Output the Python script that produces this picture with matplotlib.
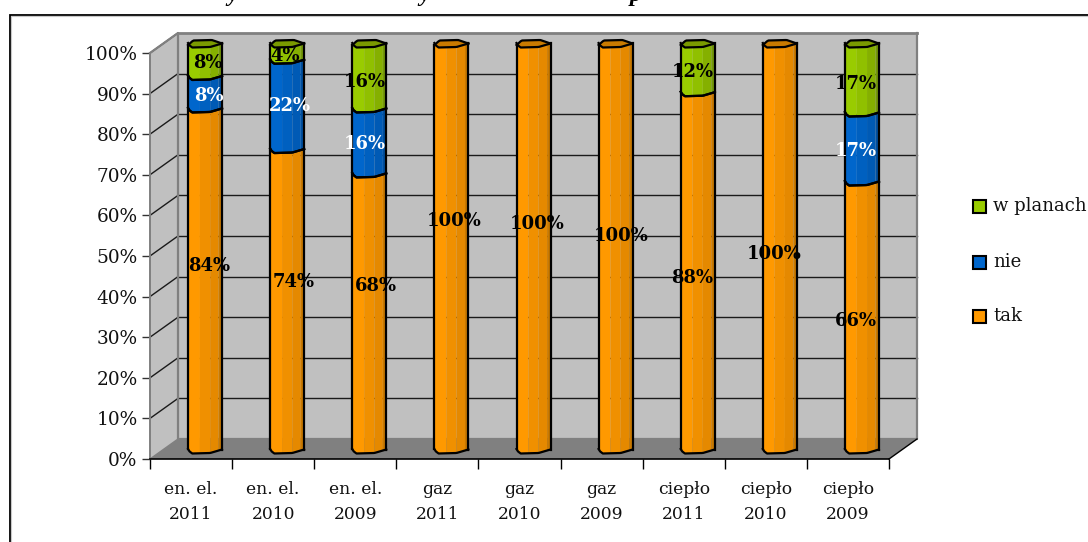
import numpy as np
import matplotlib
matplotlib.use("Agg")
import matplotlib.pyplot as plt
from matplotlib.patches import Rectangle, Polygon

categories = ["en. el.\n2011", "en. el.\n2010", "en. el.\n2009", "gaz\n2011", "gaz\n2010",
              "gaz\n2009", "ciepło\n2011", "ciepło\n2010", "ciepło\n2009"]
tak = [84, 74, 68, 100, 100, 100, 88, 100, 66]
nie = [8, 22, 16, 0, 0, 0, 0, 0, 17]
w_planach = [8, 4, 16, 0, 0, 0, 12, 0, 17]

# label centres as shift from the bar centre (px) and axis height (%)
tak_label_dx = [4, 7, 7, 3, 4, 6, -6, -6, -6]
tak_label_y = [47.5, 43.5, 42.5, 58.5, 57.8, 55, 44.5, 50.5, 34]
nie_label_dx = [4, 3, -4, 0, 0, 0, 0, 0, -6]
nie_label_y = [89.5, 87, 77.5, 0, 0, 0, 0, 0, 75.8]
pl_label_dx = [3, -2, -4, 0, 0, 0, -5, 0, -6]
pl_label_y = [97.5, 99.3, 92.8, 0, 0, 0, 95.3, 0, 92.4]

orange = ["#ff9900", "#f09000", "#e58900", "#c97900"]
blue = ["#0066cc", "#0060c0", "#005ab5", "#004f9f"]
green = ["#99cc00", "#90c000", "#85b000", "#74980a"]
cap_orange = "#c97a00"
cap_green = "#7a9a00"
band_edges = [0, 0.35, 0.65, 0.9, 1]

W, H = 1088, 542
FONT = "DejaVu Serif"

fig = plt.figure(figsize=(W / 100, H / 100), dpi=100)

# frame round the chart runs off the right and bottom of the figure
bg = fig.add_axes([0, 0, 1, 1])
bg.set_xlim(0, W)
bg.set_ylim(H, 0)
bg.axis("off")
bg.plot([9.5, 9.5, W], [H, 14.5, 14.5], color="black", lw=1.3, solid_joinstyle="miter")
bg.plot([11, 11, W], [H, 15.8, 15.8], color="#c8c8c8", lw=0.8)

# title line sits above the top edge, only its descenders show
for tx, ch in [(233, "y"), (425, "y"), (636, "p")]:
    bg.text(tx, 0.5, ch, fontsize=17, family="Liberation Serif", weight="bold", style="italic",
            ha="center", va="baseline")

# front plane of the box
ax = fig.add_axes([150 / W, 1 - 459 / H, 739 / W, 406 / H])
ax.set_xlim(0, 9)
ax.set_ylim(0, 100)
ax.patch.set_visible(False)
for s in ["top", "right", "left", "bottom"]:
    ax.spines[s].set_visible(False)

px = 9 / 739
py = 100 / 406
dep_x = 28 * px
dep_y = 20 * py


def wall(xs, ys, fc, z):
    ax.add_patch(Polygon(list(zip(xs, ys)), closed=True, fc=fc, ec="none", clip_on=False, zorder=z))


# side wall, back wall, floor
wall([0, dep_x, dep_x, 0], [0, dep_y, 100 + dep_y, 100], "#c0c0c0", 1)
wall([dep_x, 9 + dep_x, 9 + dep_x, dep_x], [dep_y, dep_y, 100 + dep_y, 100 + dep_y], "#c0c0c0", 1)
wall([0, 9, 9 + dep_x, dep_x], [0, 0, dep_y, dep_y], "#808080", 1)

for v in range(10, 101, 10):
    if v < 100:
        ax.plot([dep_x, 9 + dep_x], [v + dep_y, v + dep_y], color="#1a1a1a", lw=1.0, clip_on=False, zorder=2)
    ax.plot([0, dep_x], [v, v + dep_y], color="#1a1a1a", lw=1.0, clip_on=False, zorder=2)

ax.plot([0, dep_x, dep_x, 9 + dep_x, 9 + dep_x], [100, 100 + dep_y, dep_y, dep_y, 100 + dep_y],
        color="#808080", lw=1.6, clip_on=False, zorder=2)
ax.plot([dep_x, 9 + dep_x], [100 + dep_y, 100 + dep_y], color="#808080", lw=2, clip_on=False, zorder=2)
ax.plot([0, 0], [0, 100], color="#808080", lw=1.4, clip_on=False, zorder=3)
ax.plot([0, dep_x], [0, dep_y], color="#808080", lw=1, clip_on=False, zorder=2)
ax.plot([9, 9 + dep_x], [0, dep_y], color="black", lw=1, clip_on=False, zorder=3)
ax.plot([0, 9], [0, 0], color="black", lw=1.2, clip_on=False, zorder=3)

ax.set_xticks(range(10))
ax.set_xticklabels([])
ax.set_yticks(range(0, 101, 10))
ax.set_yticklabels([f"{v}%" for v in range(0, 101, 10)], fontsize=13.3, family=FONT, color="#111111")
ax.tick_params(axis="y", length=6, width=1, color="#333333", pad=3)
ax.tick_params(axis="x", length=7, width=1, color="black", direction="out")

for i, c in enumerate(categories):
    ax.text(i + 0.5, -10.5, c, ha="center", va="center", fontsize=12.3, family=FONT,
            linespacing=1.62, color="#111111", clip_on=False)

bar_w = 34 * px
front_f = [0, 0.03, 0.12, 0.65, 1]
front_off = [1, 3, 5.5, 5, 1.5]
back_f = [0, 0.15, 0.7, 1]
back_off = [3, -1.5, -2, 1.5]


def curve(f, f_pts, off_pts, y):
    return y - np.interp(f, f_pts, off_pts) * py


def draw_segment(i, y0, y1, colors, top, cap):
    x_left = i + 0.5 + 14 * px - bar_w / 2
    for k, col in enumerate(colors):
        f = np.linspace(band_edges[k], band_edges[k + 1], 12)
        xs = x_left + f * bar_w
        ytop = curve(f, front_f, front_off, y1)
        ybot = curve(f, front_f, front_off, y0)
        ax.fill(np.r_[xs, xs[::-1]], np.r_[ytop, ybot[::-1]], color=col, lw=0, clip_on=False, zorder=4)
    f = np.linspace(0, 1, 25)
    xs = x_left + f * bar_w
    if top:
        back = curve(f, back_f, back_off, y1)
        ax.fill(np.r_[xs, xs[::-1]], np.r_[back, curve(f[::-1], front_f, front_off, y1)],
                color=cap, lw=0, clip_on=False, zorder=4)
        ax.plot(xs, back, color="black", lw=1.6, clip_on=False, zorder=5)
    ax.plot(xs, curve(f, front_f, front_off, y1), color="black", lw=1.6, clip_on=False, zorder=5)
    ax.plot(xs, curve(f, front_f, front_off, y0), color="black", lw=1.6, clip_on=False, zorder=5)
    ax.plot([xs[0], xs[0]], [curve(0, front_f, front_off, y0), curve(0, back_f, back_off, y1)],
            color="black", lw=1.6, clip_on=False, zorder=5)
    ax.plot([xs[-1], xs[-1]], [curve(1, front_f, front_off, y0), curve(1, back_f, back_off, y1)],
            color="black", lw=1.6, clip_on=False, zorder=5)


base = 11 * py
for i in range(len(categories)):
    y = base
    a, b, c = tak[i], nie[i], w_planach[i]
    draw_segment(i, y, y + a, orange, b + c == 0, cap_orange)
    y += a
    if b:
        draw_segment(i, y, y + b, blue, c == 0, cap_green)
        y += b
    if c:
        draw_segment(i, y, y + c, green, True, cap_green)


def put_label(i, dx, y, val, col):
    x = i + 0.5 + 14 * px + dx * px
    ax.text(x, y, f"{val}%", ha="center", va="center", fontsize=13, family=FONT, weight="bold",
            color=col, clip_on=False, zorder=6)


for i in range(len(categories)):
    put_label(i, tak_label_dx[i], tak_label_y[i], tak[i], "black")
    if nie[i]:
        put_label(i, nie_label_dx[i], nie_label_y[i], nie[i], "white")
    if w_planach[i]:
        put_label(i, pl_label_dx[i], pl_label_y[i], w_planach[i], "black")

# legend
legend_names = ["w planach", "nie", "tak"]
legend_colors = [green[0], blue[0], orange[0]]
legend_y = [206, 262, 316]
for name, col, ly in zip(legend_names, legend_colors, legend_y):
    bg.add_patch(Rectangle((972.5, ly - 6.5), 13, 13, fc=col, ec="black", lw=1.5, zorder=3))
    bg.text(993, ly, name, fontsize=13, family=FONT, va="center", ha="left", color="#111111")

fig.savefig("out.png", dpi=100)
